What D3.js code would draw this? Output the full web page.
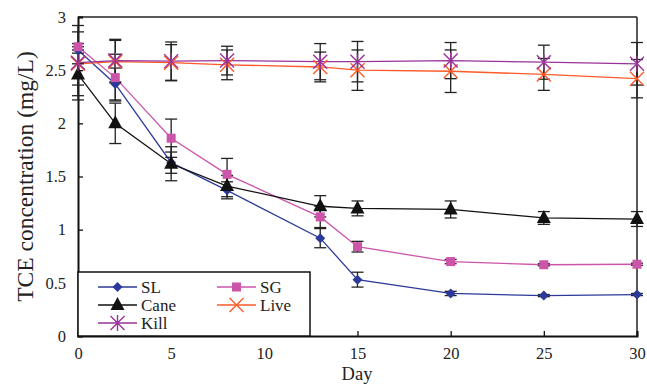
<!DOCTYPE html>
<html><head><meta charset="utf-8">
<script src="https://cdn.jsdelivr.net/npm/d3@7"></script>
<style>body{margin:0;background:#fff}svg{display:block}svg text{font-family:"Liberation Serif","Times New Roman",serif !important}</style>
</head><body><svg id="c" width="647" height="384"></svg>
<script>
const days = [0, 2, 5, 8, 13, 15, 20, 25, 30];
const slVals   = [2.69, 2.37, 1.63, 1.37, 0.92, 0.53, 0.40, 0.38, 0.39];
const slErr    = [0.03, 0.15, 0.10, 0.08, 0.09, 0.07, 0.02, 0.01, 0.01];
const sgVals   = [2.72, 2.43, 1.86, 1.52, 1.12, 0.84, 0.70, 0.67, 0.675];
const sgErr    = [0.03, 0.22, 0.18, 0.15, 0.10, 0.05, 0.02, 0.01, 0.01];
const caneVals = [2.46, 2.00, 1.62, 1.41, 1.22, 1.20, 1.19, 1.11, 1.10];
const caneErr  = [0.10, 0.19, 0.16, 0.10, 0.10, 0.07, 0.08, 0.06, 0.07];
const liveVals = [2.56, 2.58, 2.57, 2.55, 2.53, 2.50, 2.49, 2.46, 2.42];
const liveErr  = [0.30, 0.20, 0.17, 0.14, 0.14, 0.19, 0.20, 0.15, 0.18];
const killVals = [2.57, 2.59, 2.585, 2.59, 2.58, 2.58, 2.59, 2.575, 2.56];
const killErr  = [0.35, 0.20, 0.18, 0.135, 0.17, 0.19, 0.17, 0.16, 0.20];
const xTicks = [0, 5, 10, 15, 20, 25, 30];
const yTicks = [0, 0.5, 1, 1.5, 2, 2.5, 3];
const yTickLabels = ["0", "0.5", "1", "1.5", "2", "2.5", "3"];

const series = [
  {name: "SL", vals: slVals, err: slErr, color: "#2B3A9A", marker: "diamond"},
  {name: "SG", vals: sgVals, err: sgErr, color: "#CC55AA", marker: "square"},
  {name: "Cane", vals: caneVals, err: caneErr, color: "#111111", marker: "triangle"},
  {name: "Live", vals: liveVals, err: liveErr, color: "#FF5A28", marker: "x"},
  {name: "Kill", vals: killVals, err: killErr, color: "#993399", marker: "star"}
];

const SERIF = "'Liberation Serif', 'Times New Roman', serif";
const svg = d3.select("#c");
const x = d3.scaleLinear().domain([0, 30]).range([78, 637]);
const y = d3.scaleLinear().domain([0, 3]).range([336, 17]);

function drawMarker(g, type, color) {
  if (type === "diamond") g.append("path").attr("d", "M0,-5L5,0L0,5L-5,0Z").attr("fill", color);
  else if (type === "square") g.append("rect").attr("x", -4.5).attr("y", -4.5).attr("width", 9).attr("height", 9).attr("fill", color);
  else if (type === "triangle") g.append("path").attr("d", "M0,-8L7,5L-7,5Z").attr("fill", color);
  else if (type === "x") g.append("path").attr("d", "M-7,-7L7,7M-7,7L7,-7").attr("stroke", color).attr("stroke-width", 1.4).attr("fill", "none");
  else if (type === "star") g.append("path").attr("d", "M-7,-7L7,7M-7,7L7,-7M0,-8L0,8").attr("stroke", color).attr("stroke-width", 1.4).attr("fill", "none");
}

// frame top/right
svg.append("line").attr("x1", x(0)).attr("x2", x(30)).attr("y1", y(3)).attr("y2", y(3)).attr("stroke", "#222").attr("stroke-width", 1.5);
svg.append("line").attr("x1", x(30)).attr("x2", x(30)).attr("y1", y(3)).attr("y2", y(0)).attr("stroke", "#222").attr("stroke-width", 1.5);

// axes
const yAxis = d3.axisLeft(y).tickValues(yTicks).tickSize(-5).tickPadding(12).tickFormat((d, i) => yTickLabels[i]);
const gy = svg.append("g").attr("transform", `translate(${x(0)},0)`).call(yAxis);
const xAxis = d3.axisBottom(x).tickValues(xTicks).tickSize(-5).tickPadding(11);
const gx = svg.append("g").attr("transform", `translate(0,${y(0)})`).call(xAxis);
[gx, gy].forEach(g => {
  g.attr("font-family", SERIF);
  g.select(".domain").attr("stroke", "#111").attr("stroke-width", 2);
  g.selectAll(".tick line").attr("stroke", "#111").attr("stroke-width", 1.3);
  g.selectAll("text").attr("fill", "#222").style("font-family", SERIF).style("font-size", "16.5px");
});

// lines
const line = d3.line().x((d, i) => x(days[i])).y(d => y(d));
series.forEach(s => {
  svg.append("path").datum(s.vals).attr("d", line).attr("fill", "none").attr("stroke", s.color).attr("stroke-width", 1.3);
});
// error bars
series.forEach(s => {
  const g = svg.append("g");
  s.vals.forEach((v, i) => {
    const cx = x(days[i]), t = y(v + s.err[i]), b = y(v - s.err[i]);
    g.append("line").attr("x1", cx).attr("x2", cx).attr("y1", t).attr("y2", b).attr("stroke", "#222").attr("stroke-width", 1.3);
    g.append("line").attr("x1", cx - 6).attr("x2", cx + 6).attr("y1", t).attr("y2", t).attr("stroke", "#222").attr("stroke-width", 1.3);
    g.append("line").attr("x1", cx - 6).attr("x2", cx + 6).attr("y1", b).attr("y2", b).attr("stroke", "#222").attr("stroke-width", 1.3);
  });
});
// markers
series.forEach(s => {
  s.vals.forEach((v, i) => {
    const g = svg.append("g").attr("transform", `translate(${x(days[i])},${y(v)})`);
    drawMarker(g, s.marker, s.color);
  });
});

// legend
const lg = svg.append("g");
lg.append("rect").attr("x", 78).attr("y", 272).attr("width", 232).attr("height", 64).attr("fill", "#fff").attr("stroke", "#111").attr("stroke-width", 1.5);
const legPos = [[98, 287], [217, 287], [98, 305], [217, 305], [98, 323]];
series.forEach((s, i) => {
  const [lx, ly] = legPos[i];
  lg.append("line").attr("x1", lx).attr("x2", lx + 39).attr("y1", ly).attr("y2", ly).attr("stroke", s.color).attr("stroke-width", 1.3);
  const m = lg.append("g").attr("transform", `translate(${lx + 19.5},${ly})`);
  drawMarker(m, s.marker, s.color);
  lg.append("text").attr("x", lx + 43).attr("y", ly + 5.5).style("font-family", SERIF).style("font-size", "17px").attr("fill", "#222").text(s.name);
});

// titles
svg.append("text").attr("x", 357).attr("y", 380).attr("text-anchor", "middle").style("font-family", SERIF).style("font-size", "18.5px").attr("fill", "#222").text("Day");
svg.append("text").attr("transform", `translate(25,${(43 + 310) / 2}) rotate(-90)`).attr("text-anchor", "middle").attr("dy", "0.35em").style("font-family", SERIF).style("font-size", "23.5px").attr("fill", "#222").text("TCE concentration (mg/L)");
</script></body></html>
